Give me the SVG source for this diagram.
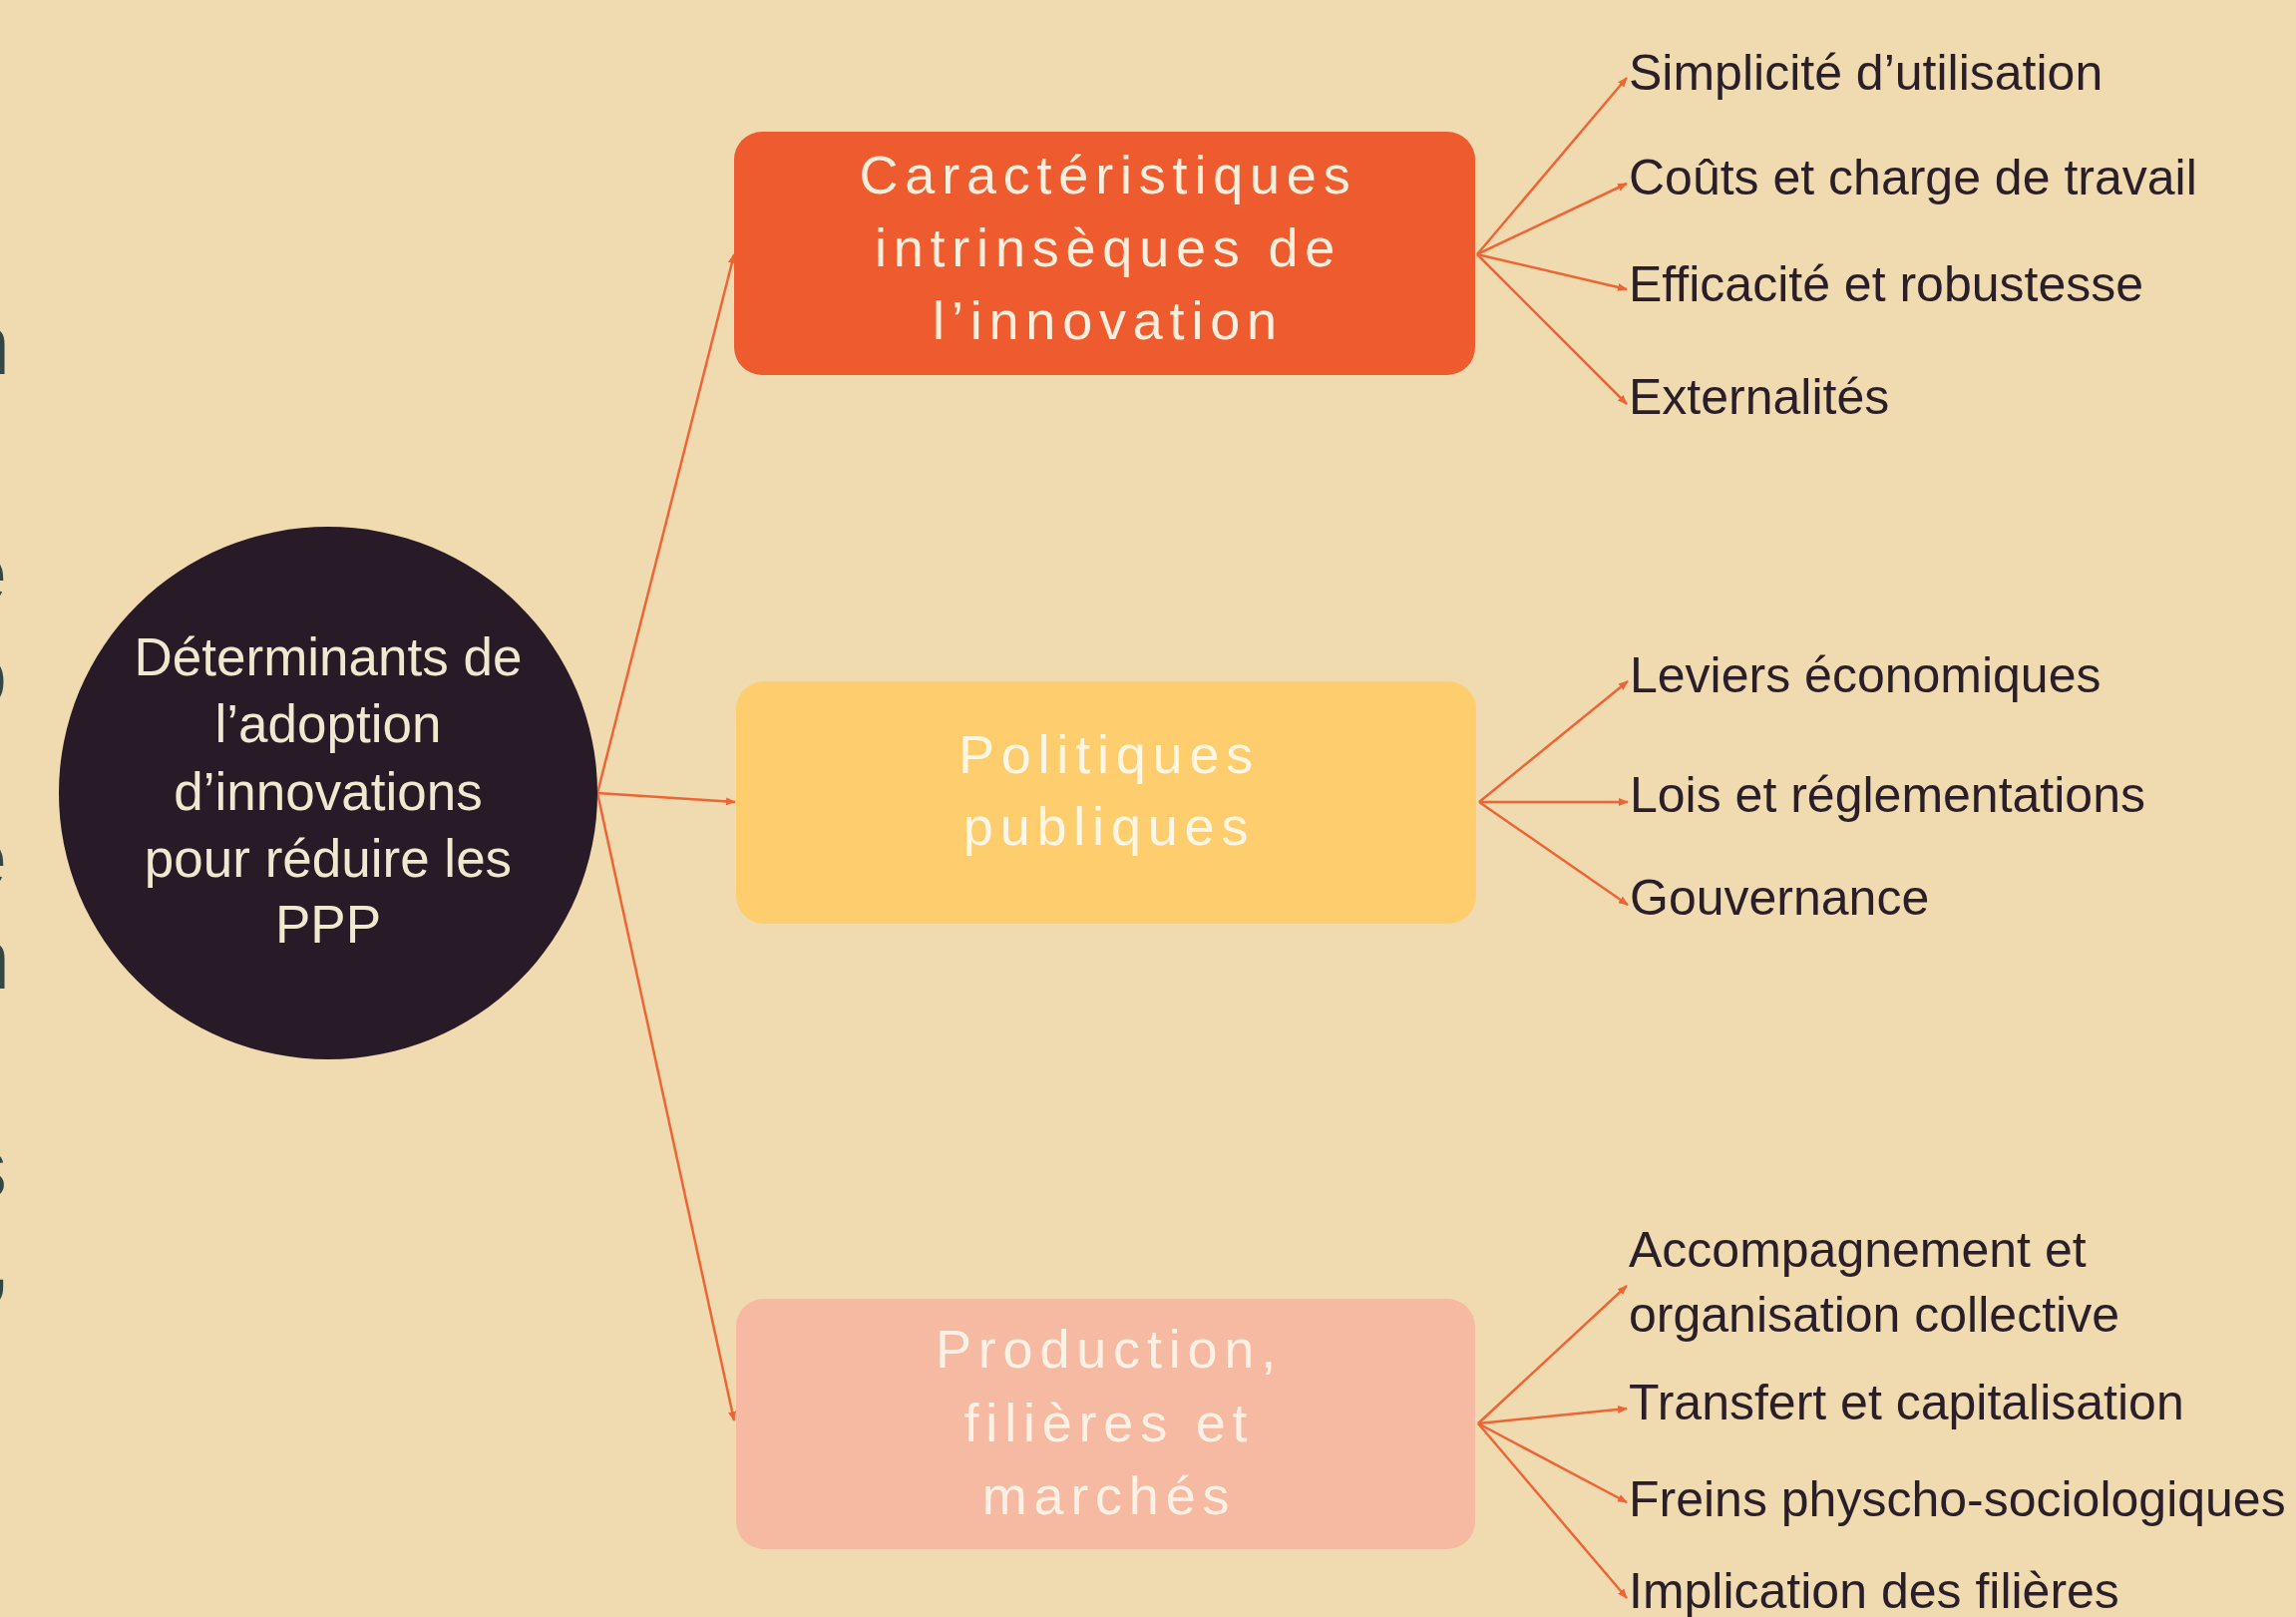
<svg xmlns="http://www.w3.org/2000/svg" width="2302" height="1621" viewBox="0 0 2302 1621">
<defs>
<marker id="ah" markerUnits="userSpaceOnUse" markerWidth="10" markerHeight="10" refX="9" refY="5" orient="auto">
<path d="M0,1 L10,5 L0,9 z" fill="#EE6535"/>
</marker>
<style>
.bg{fill:#F0DAB0}
.frag{font-family:"Liberation Sans",Arial,sans-serif;font-size:86px;fill:#344745;text-anchor:end}
.ctext{font-family:"Liberation Sans",Arial,sans-serif;font-size:53px;fill:#F2E8D0;text-anchor:middle}
.btext{font-family:"Liberation Sans",Arial,sans-serif;font-size:54px;letter-spacing:6.8px;text-anchor:middle}
.lbl{font-family:"Liberation Sans",Arial,sans-serif;font-size:50px;fill:#2A1E28}
.conn{stroke:#EE6535;stroke-width:2.5;fill:none;marker-end:url(#ah)}
</style>
</defs>
<rect class="bg" x="0" y="0" width="2302" height="1621"/>

<g id="edge-fragments">
<text class="frag" x="10" y="375">n</text>
<text class="frag" x="7" y="603">e</text>
<text class="frag" x="7" y="706">o</text>
<text class="frag" x="7" y="889">e</text>
<text class="frag" x="10" y="991">n</text>
<text class="frag" x="7" y="1200">s</text>
<text class="frag" x="11" y="1292">,</text>
</g>

<g id="connectors">
<line class="conn" x1="599" y1="795" x2="736" y2="255"/>
<line class="conn" x1="599" y1="795" x2="737" y2="804"/>
<line class="conn" x1="599" y1="795" x2="736" y2="1424"/>

<line class="conn" x1="1481" y1="255" x2="1631" y2="78"/>
<line class="conn" x1="1481" y1="255" x2="1631" y2="184"/>
<line class="conn" x1="1481" y1="255" x2="1631" y2="290"/>
<line class="conn" x1="1481" y1="255" x2="1631" y2="405"/>

<line class="conn" x1="1483" y1="804" x2="1632" y2="683"/>
<line class="conn" x1="1483" y1="804" x2="1632" y2="804"/>
<line class="conn" x1="1483" y1="804" x2="1632" y2="907"/>

<line class="conn" x1="1482" y1="1427" x2="1631" y2="1289"/>
<line class="conn" x1="1482" y1="1427" x2="1631" y2="1412"/>
<line class="conn" x1="1482" y1="1427" x2="1631" y2="1506"/>
<line class="conn" x1="1482" y1="1427" x2="1631" y2="1602"/>
</g>

<g id="center">
<ellipse cx="329" cy="795" rx="270" ry="267" fill="#281A26"/>
<text class="ctext" x="329" y="677">Déterminants de</text>
<text class="ctext" x="329" y="744">l’adoption</text>
<text class="ctext" x="329" y="812">d’innovations</text>
<text class="ctext" x="329" y="879">pour réduire les</text>
<text class="ctext" x="329" y="945">PPP</text>
</g>

<g id="box-caracteristiques">
<rect x="736" y="132" width="743" height="244" rx="28" fill="#EE5B2E"/>
<text class="btext" x="1111" y="194" fill="#FBEEDC">Caractéristiques</text>
<text class="btext" x="1111" y="267" fill="#FBEEDC">intrinsèques de</text>
<text class="btext" x="1111" y="340" fill="#FBEEDC">l’innovation</text>
</g>

<g id="box-politiques">
<rect x="738" y="683" width="742" height="243" rx="28" fill="#FECE6E"/>
<text class="btext" x="1112" y="775" fill="#FFF6E4">Politiques</text>
<text class="btext" x="1112" y="847" fill="#FFF6E4">publiques</text>
</g>

<g id="box-production">
<rect x="738" y="1302" width="741" height="251" rx="28" fill="#F6B9A2"/>
<text class="btext" x="1112" y="1371" fill="#FCF1E4">Production,</text>
<text class="btext" x="1112" y="1445" fill="#FCF1E4">filières et</text>
<text class="btext" x="1112" y="1518" fill="#FCF1E4">marchés</text>
</g>

<g id="label-simplicite"><text class="lbl" x="1633" y="90">Simplicité d’utilisation</text></g>
<g id="label-couts"><text class="lbl" x="1633" y="195">Coûts et charge de travail</text></g>
<g id="label-efficacite"><text class="lbl" x="1633" y="302">Efficacité et robustesse</text></g>
<g id="label-externalites"><text class="lbl" x="1633" y="415">Externalités</text></g>

<g id="label-leviers"><text class="lbl" x="1634" y="694">Leviers économiques</text></g>
<g id="label-lois"><text class="lbl" x="1634" y="814">Lois et réglementations</text></g>
<g id="label-gouvernance"><text class="lbl" x="1634" y="917">Gouvernance</text></g>

<g id="label-accompagnement"><text class="lbl" x="1633" y="1270">Accompagnement et</text><text class="lbl" x="1633" y="1335">organisation collective</text></g>
<g id="label-transfert"><text class="lbl" x="1633" y="1423">Transfert et capitalisation</text></g>
<g id="label-freins"><text class="lbl" x="1633" y="1520">Freins physcho-sociologiques</text></g>
<g id="label-implication"><text class="lbl" x="1633" y="1612">Implication des filières</text></g>
</svg>
